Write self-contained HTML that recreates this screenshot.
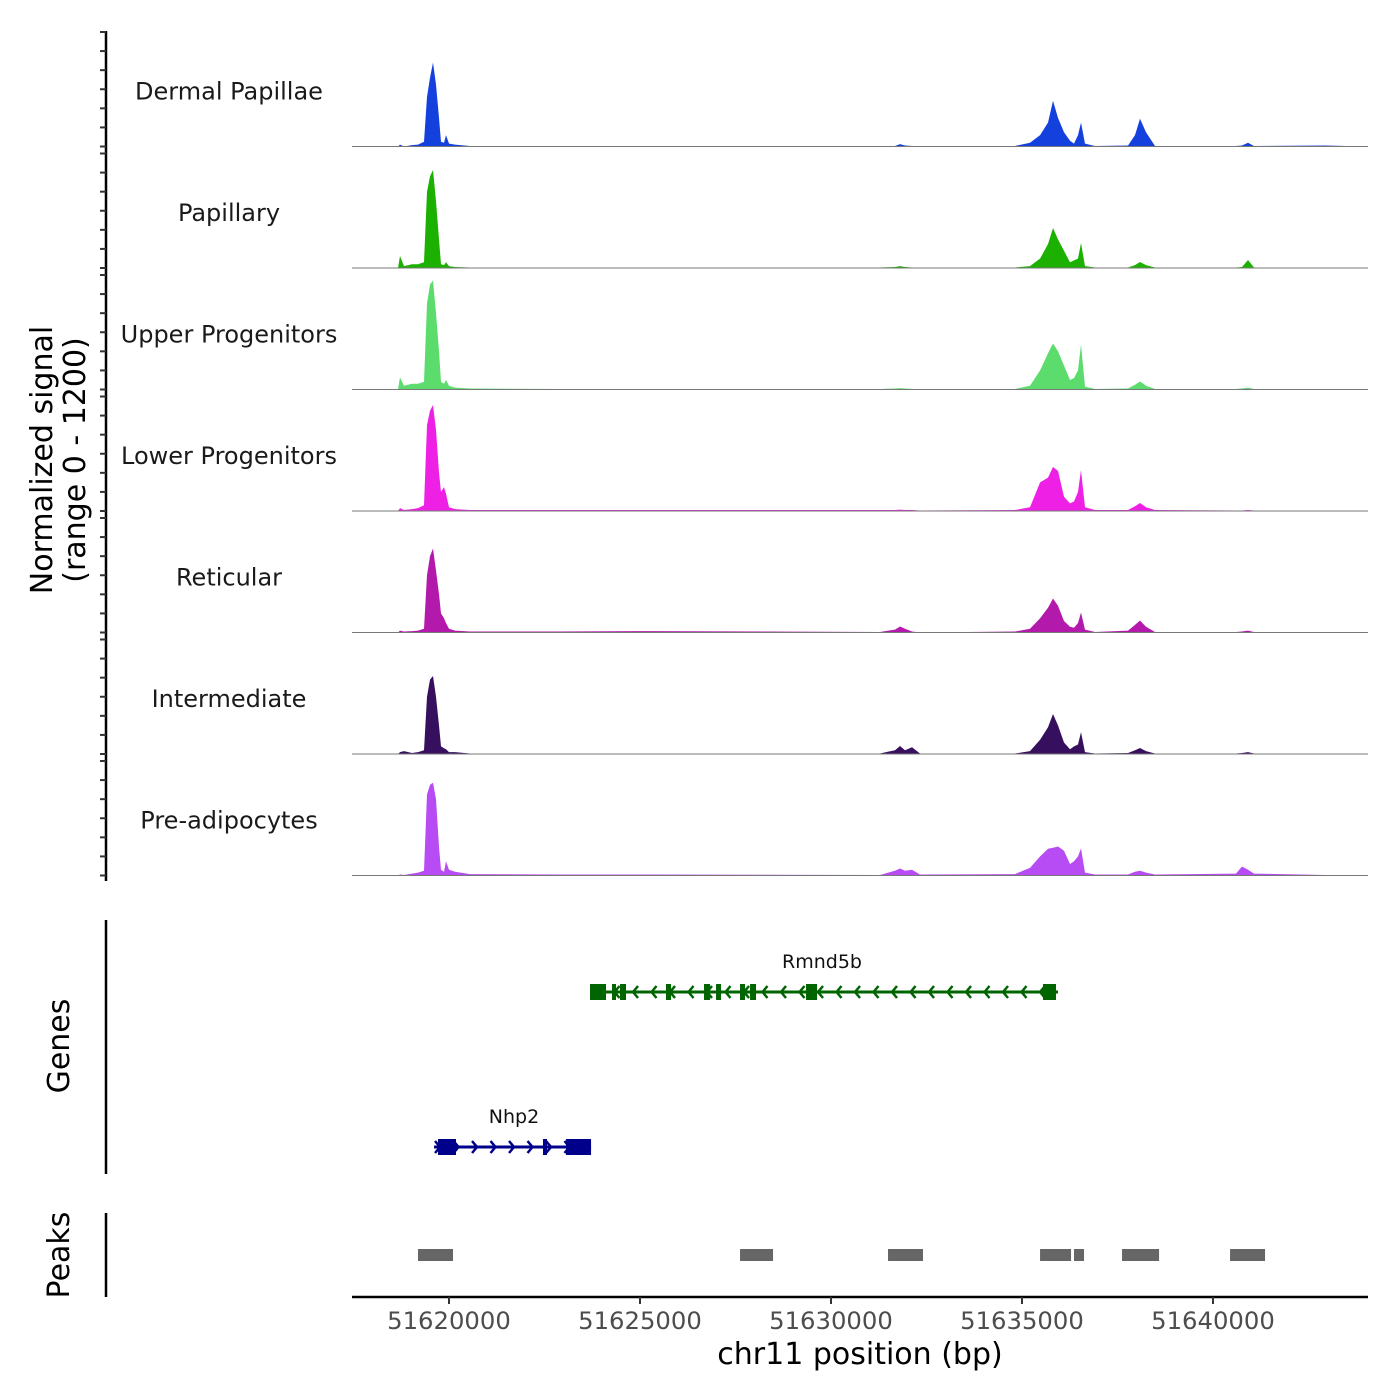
<!DOCTYPE html>
<html><head><meta charset="utf-8"><style>
html,body{margin:0;padding:0;background:#fff;}
svg{display:block;font-family:"DejaVu Sans","Liberation Sans",sans-serif;}
</style></head><body>
<svg id="chart" width="1400" height="1400" viewBox="0 0 1400 1400" xmlns="http://www.w3.org/2000/svg">
<g id="tracks"></g>
<g id="genes"></g>
<g id="peaks"></g>
<g id="axes"></g>
</svg>
<script>
const positions=[51617461,51618665,51618718,51618822,51619031,51619189,51619346,51619425,51619503,51619582,51619660,51619739,51619791,51619870,51619922,51620000,51620157,51620550,51622907,51625263,51631284,51631677,51631807,51631938,51632121,51632331,51634818,51635211,51635473,51635682,51635812,51635943,51636100,51636257,51636362,51636466,51636545,51636650,51636912,51637776,51637959,51638090,51638247,51638483,51640603,51640760,51640916,51641073,51642932,51644058];
const trackNames=["Dermal Papillae","Papillary","Upper Progenitors","Lower Progenitors","Reticular","Intermediate","Pre-adipocytes"];
const trackColors=["#1441DE","#1CB000","#5BDC6D","#EE20E6","#B31AAB","#36105E","#B84CF4"];
const dermalValues=[0,0,20,0,15,20,50,520,720,880,650,300,50,40,120,30,20,5,5,5,5,5,25,10,5,0,5,40,120,250,480,300,150,60,30,120,250,30,5,10,120,290,150,5,5,10,40,5,10,0];
const papillaryValues=[0,0,126,20,40,40,60,800,960,1027,700,300,40,30,60,20,10,5,5,5,5,10,20,10,5,0,5,20,100,250,419,300,180,60,80,100,262,20,5,5,30,63,30,5,5,10,84,5,5,0];
const upperValues=[0,0,126,40,60,60,80,900,1100,1142,800,400,80,60,100,40,20,10,5,5,5,10,15,10,5,0,5,40,200,380,482,400,250,100,120,200,471,30,5,10,50,84,40,5,5,10,20,5,5,0];
const lowerValues=[0,0,30,10,20,30,60,900,1050,1111,850,400,200,250,180,40,20,10,10,10,10,10,15,10,10,5,10,40,300,350,461,420,150,80,100,200,430,40,10,10,50,84,40,10,5,5,10,5,5,0];
const reticularValues=[0,0,20,10,15,20,40,600,800,880,650,400,200,150,100,40,20,10,10,15,5,30,63,40,10,0,10,40,150,260,356,280,120,60,50,100,210,30,5,20,80,126,60,5,5,10,20,5,5,0];
const intermediateValues=[0,0,20,30,10,20,40,600,780,817,600,300,80,60,50,20,20,5,5,5,5,40,84,40,70,5,5,30,150,280,419,300,120,50,80,100,230,20,5,10,40,63,30,5,5,10,20,5,5,0];
const preadipoValues=[0,0,10,5,20,30,50,850,950,974,800,300,60,40,150,60,40,15,10,10,5,50,73,50,60,10,15,80,200,280,290,304,260,120,150,200,283,30,10,10,40,50,30,10,20,94,60,20,5,0];
const seriesValues=[dermalValues,papillaryValues,upperValues,lowerValues,reticularValues,intermediateValues,preadipoValues];
const xTicks=[51620000,51625000,51630000,51635000,51640000];
const rmnd5bExonStarts=[51623692,51624268,51624477,51625681,51626676,51626991,51627619,51627881,51629347,51635551];
const rmnd5bExonEnds=[51624111,51624373,51624634,51625812,51626834,51627122,51627750,51628038,51629635,51635891];
const nhp2ExonStarts=[51619713,51622461,51623064];
const nhp2ExonEnds=[51620184,51622566,51623719];
const peakStarts=[51619189,51627619,51631493,51635473,51636362,51637619,51640447];
const peakEnds=[51620105,51628483,51632409,51636284,51636624,51638588,51641363];

const NS="http://www.w3.org/2000/svg";
const X0=352,X1=1368,BP0=51617461,BP1=51644058;
function xs(bp){return X0+(bp-BP0)/(BP1-BP0)*(X1-X0);}
const TRACK_H=121.5,FIRST_BASE=146.5,SIG_H=114.5;
function ys(v,i){return FIRST_BASE+i*TRACK_H - v/1200*SIG_H;}
function mk(tag,attrs,parent){const e=document.createElementNS(NS,tag);for(const k in attrs)e.setAttribute(k,attrs[k]);parent.appendChild(e);return e;}

const tracks=document.getElementById('tracks');
seriesValues.forEach((vals,i)=>{
  const base=FIRST_BASE+i*TRACK_H;
  let d='M'+xs(positions[0])+','+base;
  vals.forEach((v,j)=>{d+=' L'+xs(positions[j]).toFixed(1)+','+ys(v,i).toFixed(1);});
  d+=' L'+xs(positions[positions.length-1])+','+base+' Z';
  const p=mk('path',{d:d,fill:trackColors[i]},tracks);
  
  
  const bl=mk('line',{x1:X0,x2:X1,y1:base,y2:base,stroke:'#777','stroke-width':1},tracks);
  
  
  const t=mk('text',{x:229,y:base-55+8,'text-anchor':'middle','font-size':24,fill:'#1a1a1a'},tracks);
  t.textContent=trackNames[i];
  
  
});

const genes=document.getElementById('genes');
function drawGene(name,start,end,y,starts,ends,color,dir,labelX){
  const g=mk('g',{},genes);
  
  
  mk('line',{x1:xs(start),x2:xs(end),y1:y,y2:y,stroke:color,'stroke-width':3},g);
  const a=xs(start),b=xs(end);
  for(let x=a+6;x<b-4;x+=18.5){
    const dx=dir>0?-5:5;
    mk('polyline',{points:(x+dx)+','+(y-6)+' '+x+','+y+' '+(x+dx)+','+(y+6),fill:'none',stroke:color,'stroke-width':2.5},g);
  }
  starts.forEach((s,k)=>{
    const w=xs(ends[k])-xs(s);
    mk('rect',{x:xs(s),y:y-8,width:Math.max(w,3),height:16,fill:color},g);
  });
  const t=mk('text',{x:labelX,y:y-24,'text-anchor':'middle','font-size':19,fill:'#111'},g);
  t.textContent=name;
  
  
}
drawGene('Rmnd5b',51623692,51635943,992,rmnd5bExonStarts,rmnd5bExonEnds,'#006400',-1,822);
drawGene('Nhp2',51619608,51623719,1147,nhp2ExonStarts,nhp2ExonEnds,'#00008B',1,514);

const peaks=document.getElementById('peaks');
peakStarts.forEach((s,k)=>{
  const r=mk('rect',{x:xs(s),y:1249,width:xs(peakEnds[k])-xs(s),height:12,fill:'#666'},peaks);
  
  
});

const axes=document.getElementById('axes');
mk('line',{x1:106,x2:106,y1:31,y2:881,stroke:'#000','stroke-width':2.5},axes);
for(let i=0;i<7;i++){
  for(let v=0;v<=1200;v+=200){
    const y=ys(v,i);
    mk('line',{x1:100,x2:106,y1:y,y2:y,stroke:'#333','stroke-width':2},axes);
  }
}
mk('line',{x1:106,x2:106,y1:920,y2:1174,stroke:'#000','stroke-width':2.5},axes);
mk('line',{x1:106,x2:106,y1:1213,y2:1297,stroke:'#000','stroke-width':2.5},axes);
mk('line',{x1:X0,x2:X1,y1:1297,y2:1297,stroke:'#000','stroke-width':2.5},axes);
xTicks.forEach(v=>{
  mk('line',{x1:xs(v),x2:xs(v),y1:1297,y2:1304,stroke:'#333','stroke-width':2},axes);
  const t=mk('text',{x:xs(v),y:1329,'text-anchor':'middle','font-size':24.3,fill:'#4d4d4d'},axes);
  t.textContent=v;
  
  
});
function label(txt,x,y,size,rot,name){
  const t=mk('text',{x:x,y:y,'text-anchor':'middle','font-size':size,fill:'#000',transform:rot?('rotate(-90 '+x+' '+y+')'):''},axes);
  t.textContent=txt;
  
  
}
label('Normalized signal',52,460,30,true,'y-axis-title');
label('(range 0 - 1200)',85,460,30,true,'y-axis-subtitle');
label('Genes',69,1046,30,true,'genes-axis-title');
label('Peaks',69,1255,30,true,'peaks-axis-title');
label('chr11 position (bp)',860,1364,30,false,'x-axis-title');
</script>
</body></html>
